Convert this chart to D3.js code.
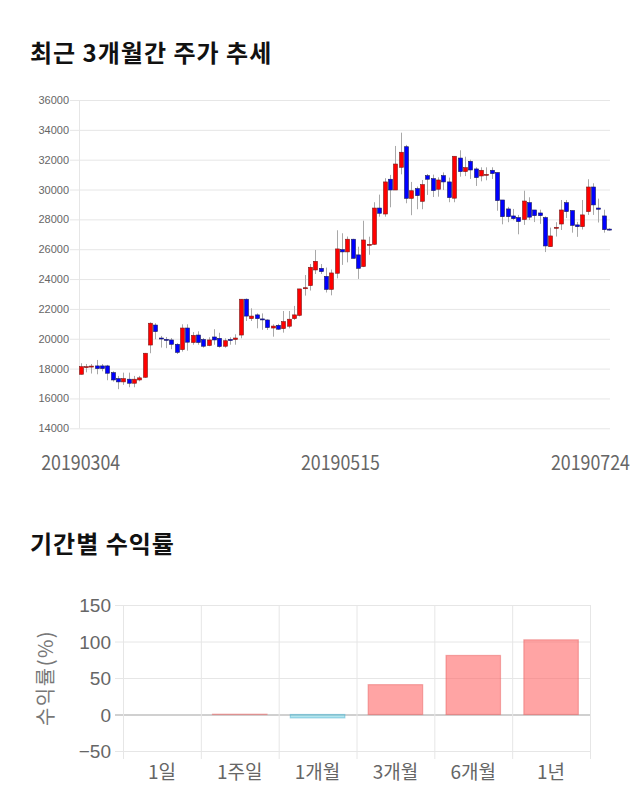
<!DOCTYPE html>
<html><head><meta charset="utf-8">
<script src="https://cdn.jsdelivr.net/npm/d3@7/dist/d3.min.js"></script>
<style>
body{margin:0;background:#fff;}
svg text{font-family:"Noto Sans CJK KR","Noto Sans",sans-serif;}
</style></head>
<body>
<svg id="c" width="640" height="810"></svg>
<script>
const dates = [
"20190304","20190305","20190306","20190307","20190308","20190311","20190312","20190313","20190314","20190315",
"20190318","20190319","20190320","20190321","20190322","20190325","20190326","20190327","20190328","20190329",
"20190401","20190402","20190403","20190404","20190405","20190408","20190409","20190410","20190411","20190412",
"20190415","20190416","20190417","20190418","20190419","20190422","20190423","20190424","20190425","20190426",
"20190429","20190430","20190502","20190503","20190507","20190508","20190509","20190510","20190513","20190514",
"20190515","20190516","20190517","20190520","20190521","20190522","20190523","20190524","20190527","20190528",
"20190529","20190530","20190531","20190603","20190604","20190605","20190607","20190610","20190611","20190612",
"20190613","20190614","20190617","20190618","20190619","20190620","20190621","20190624","20190625","20190626",
"20190627","20190628","20190701","20190702","20190703","20190704","20190705","20190708","20190709","20190710",
"20190711","20190712","20190715","20190716","20190717","20190718","20190719","20190722","20190723","20190724"];
const open = [17620,18100,18140,18180,18180,18180,17730,17330,17110,17290,17020,17240,17420,19580,20920,20050,19960,19920,19630,19270,
20720,19750,20250,19950,19550,20120,20030,19500,19950,19950,20250,22650,21350,21600,21330,21260,20720,20900,20680,20840,
21350,21570,23380,23560,24610,24720,24180,23310,24390,25970,25820,26670,25620,24840,26300,26330,28760,28360,30690,29970,
31490,32870,29410,30060,29210,30930,30730,30020,30930,30510,29420,32110,31200,31890,31380,30910,30980,31290,31140,29300,
28700,28230,28120,27990,29120,28630,28430,28120,26170,27430,27690,29120,28590,27630,27510,28520,30170,28760,28230,27350];
const high = [18360,18310,18310,18580,18310,18250,17820,17510,17730,17730,17510,17510,19050,21100,21040,20190,20120,20050,19700,20970,
20970,20450,20500,20050,20100,20640,20400,20030,20100,20300,22650,22700,22040,21700,21700,21300,20970,21000,21860,21860,
22200,23340,24270,25010,25950,25010,24770,24640,27270,27070,26850,26700,26170,27910,26840,29150,29660,30760,30980,32920,
33810,32990,30510,30200,30640,31040,31000,30820,31150,30800,32230,32630,32200,32000,31490,31490,31490,31490,31140,29300,
28840,28700,28300,29920,29480,28630,28650,28200,27450,27810,29300,29300,28590,27830,29300,30690,30420,29390,28650,27400];
const low = [17600,17750,17670,17620,17820,17220,17130,16620,16910,16750,16750,17150,17380,19030,19970,19410,19370,19300,18980,19140,
19200,19600,19600,19400,19500,19600,19400,19400,19600,19600,20030,21190,21190,20700,20600,20590,20140,20600,20410,20700,
21260,21500,22890,23230,24340,24340,23100,22910,24050,24950,25120,25390,24010,24800,25630,26280,28180,28180,28810,29970,
31020,29080,28280,28680,28680,29640,29500,29520,29970,29150,29150,30860,30900,30710,30240,30550,30620,30710,28580,27670,
27810,27950,27000,27630,27960,27820,27700,25810,26170,26850,27290,28090,27110,26830,27320,28300,28300,27790,27110,27250];
const close = [18130,18130,18170,18000,18000,17690,17240,17110,17330,17020,17290,17380,19030,21040,20480,20010,19920,19630,19090,20720,
19770,20230,19750,19500,19920,19920,19480,19870,19930,20050,22650,21520,21520,21350,21290,20750,20850,20640,21150,21310,
21600,23340,23420,24790,25190,24500,23310,24410,26020,25820,26670,25390,24720,26620,26330,28760,28410,30510,29970,31710,
32500,29410,29920,29590,30330,30690,29930,30640,30510,29460,32230,31200,31470,31310,30800,31290,31020,31070,29260,28180,
28180,28050,27850,29230,28150,28250,28250,26220,26890,27470,28630,28520,27600,27510,28300,30170,28970,28680,27310,27300];
const priceTicks = [14000,16000,18000,20000,22000,24000,26000,28000,30000,32000,34000,36000];
const dateTickLabels = ["20190304","20190515","20190724"];

const periods = ["1일","1주일","1개월","3개월","6개월","1년"];
const returns = [0, 0.4, -4.6, 40.9, 80.9, 102.3];
const returnTicks = [-50,0,50,100,150];

const svg = d3.select("#c");

// ---------- Chart 1: candlestick ----------
svg.append("text").attr("x",30).attr("y",62).attr("font-size",24).attr("font-weight",700)
  .attr("letter-spacing","1px").attr("fill","#111").text("최근 3개월간 주가 추세");

const x1 = d3.scaleBand().domain(dates).range([77.3, 612.3]).padding(0.28);
const y1 = d3.scaleLinear().domain([14000,36000]).range([428.3,100]);
const g1 = svg.append("g");
const yAxis1 = d3.axisLeft(y1).tickValues(priceTicks).tickSize(-(610-70)).tickFormat(d3.format("d"));
const ya1 = g1.append("g").attr("transform","translate(70,0)").call(yAxis1);
ya1.select(".domain").remove();
ya1.selectAll(".tick line").attr("stroke","#e6e6e6").attr("x1",0);
ya1.selectAll(".tick text").attr("x",-1).attr("dy","0.32em").attr("font-size",11).attr("fill","#666")
  .style("font-family","'Liberation Sans',Arial,sans-serif");
g1.append("line").attr("x1",79.5).attr("x2",79.5).attr("y1",100).attr("y2",428.3).attr("stroke","#e6e6e6");

const idx = d3.range(dates.length);
const cx = i => x1(dates[i]) + x1.bandwidth()/2;
g1.selectAll(".wick").data(idx).join("line").attr("class","wick")
  .attr("x1",i=>Math.round(cx(i))+0.5).attr("x2",i=>Math.round(cx(i))+0.5)
  .attr("y1",i=>y1(high[i])).attr("y2",i=>y1(low[i]))
  .attr("stroke","#a8a8a8").attr("stroke-width",1);
g1.selectAll(".body").data(idx).join("rect").attr("class","body")
  .attr("x",i=>Math.round(cx(i))-1.5).attr("width",4)
  .attr("y",i=>y1(Math.max(open[i],close[i])))
  .attr("height",i=>Math.max(1,Math.abs(y1(open[i])-y1(close[i]))))
  .attr("fill",i=>close[i]>=open[i]?"#ff0000":"#0000ff")
  .attr("stroke",i=>close[i]>=open[i]?"#7a1a1a":"#1a1a5a").attr("stroke-width",0.6);

// date ticks
dateTickLabels.forEach((d,k)=>{
  const xp = cx(dates.indexOf(d));
  const w = 79;
  let left = xp - w/2;
  if (left + w > 630) left = 630 - w;
  if (left < 40) left = 40;
  if (k===1) left -= 7;
  g1.append("text").attr("x",left).attr("y",470).attr("font-size",20).attr("fill","#666")
    .attr("textLength",w).attr("lengthAdjust","spacingAndGlyphs")
    .style("font-family","'Noto Sans CJK KR','Noto Sans',sans-serif").text(d);
});

// ---------- Chart 2: returns ----------
svg.append("text").attr("x",30).attr("y",553).attr("font-size",24).attr("font-weight",700)
  .attr("letter-spacing","1px").attr("fill","#111").text("기간별 수익률");

const x2 = d3.scaleBand().domain(periods).range([123,590]);
const y2 = d3.scaleLinear().domain([-50,150]).range([751,605]);
const g2 = svg.append("g");
const ya2 = g2.append("g").attr("transform","translate(123,0)")
  .call(d3.axisLeft(y2).tickValues(returnTicks).tickSize(-(590-115)).tickFormat(d3.format("d")));
ya2.select(".domain").remove();
ya2.selectAll(".tick line").attr("x1",-8).attr("x2",590-123).attr("stroke",d=>d===0?"#d0d0d0":"#e6e6e6").attr("stroke-width",d=>d===0?2:1);
ya2.selectAll(".tick text").attr("x",-12).attr("dy","0.36em").attr("font-size",19).attr("fill","#666")
  .style("font-family","'Liberation Sans',Arial,sans-serif");

// vertical grid lines
const vb = periods.map(p=>x2(p)).concat([590]);
g2.selectAll(".vg").data(vb).join("line").attr("class","vg")
  .attr("x1",d=>d+0.5).attr("x2",d=>d+0.5).attr("y1",605).attr("y2",759)
  .attr("stroke","#e6e6e6");

const bw = x2.bandwidth()*0.7;
g2.selectAll(".bar").data(periods).join("rect").attr("class","bar")
  .attr("x",(p)=>x2(p)+(x2.bandwidth()-bw)/2).attr("width",bw)
  .attr("y",(p,i)=>y2(Math.max(0,returns[i])))
  .attr("height",(p,i)=>Math.abs(y2(returns[i])-y2(0)))
  .attr("fill",(p,i)=>returns[i]>=0?"rgba(255,99,99,0.58)":"rgba(100,205,225,0.5)")
  .attr("stroke",(p,i)=>returns[i]>=0?"rgba(230,90,90,0.45)":"rgba(80,180,210,0.5)")
  .attr("stroke-width",1.2);

g2.selectAll(".cat").data(periods).join("text").attr("class","cat")
  .attr("x",p=>x2(p)+x2.bandwidth()/2).attr("y",779).attr("text-anchor","middle")
  .attr("font-size",19).attr("fill","#666").text(p=>p);

svg.append("text").attr("transform","translate(53,678) rotate(-90)").attr("text-anchor","middle")
  .attr("font-size",20).attr("letter-spacing","1.5px").attr("fill","#777").text("수익률(%)");
</script>
</body></html>
